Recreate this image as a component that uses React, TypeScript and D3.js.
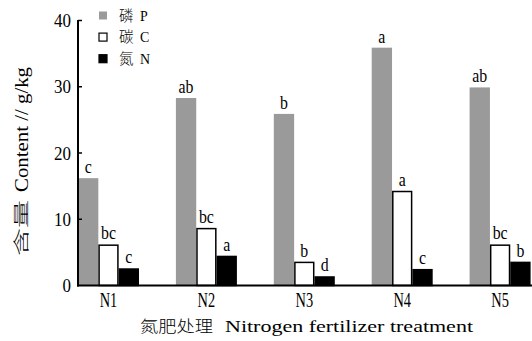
import React from "react";
import * as d3 from "d3";

const categories = ["N1", "N2", "N3", "N4", "N5"];
const seriesNames = ["磷 P", "碳 C", "氮 N"];
const seriesKeys = ["P", "C", "N"];
const pValues = [16.2, 28.3, 25.9, 35.9, 29.9];
const cValues = [6.2, 8.7, 3.6, 14.3, 6.2];
const nValues = [2.6, 4.5, 1.4, 2.5, 3.6];
const pLetters = ["c", "ab", "b", "a", "ab"];
const cLetters = ["bc", "bc", "b", "a", "bc"];
const nLetters = ["c", "a", "d", "c", "b"];
const yTicks = [0, 10, 20, 30, 40];

const W = 532;
const H = 341;
const X0 = 78;
const X1 = 530.6;
const Y0 = 285.5;
const Y1 = 20.5;

const serif = "'Liberation Serif', 'DejaVu Serif', serif";
const cjk = "'Noto Sans CJK SC', sans-serif";

export default function App() {
  const x = d3.scaleBand<string>().domain(categories).range([X0, X1]).paddingInner(0.377).paddingOuter(0);
  const xs = d3.scaleBand<string>().domain(seriesKeys).range([0, x.bandwidth()]).padding(0);
  const y = d3.scaleLinear().domain([0, 40]).range([Y0, Y1]);

  const series = [
    { key: "P", values: pValues, letters: pLetters, fill: "#9a9a9a", stroke: "none" },
    { key: "C", values: cValues, letters: cLetters, fill: "#ffffff", stroke: "#000" },
    { key: "N", values: nValues, letters: nLetters, fill: "#000000", stroke: "#000" },
  ];

  return (
    <svg width={W} height={H} style={{ position: "absolute", left: 0, top: 0, background: "#fff" }}>
      {/* bars */}
      {series.map((s) =>
        categories.map((c, i) => {
          const bx = (x(c) as number) + (xs(s.key) as number);
          const bw = xs.bandwidth();
          const top = y(s.values[i]);
          const inset = s.stroke === "none" ? 0 : 0.75;
          return (
            <g key={s.key + c}>
              <rect
                x={bx + inset}
                y={top + inset}
                width={bw - inset * 2}
                height={Y0 - top - inset}
                fill={s.fill}
                stroke={s.stroke}
                strokeWidth={s.stroke === "none" ? 0 : 1.5}
              />
              <g transform={`translate(${bx + bw / 2},${top - 5}) scale(0.88,1)`}>
                <text textAnchor="middle" fontFamily={serif} fontSize={18} fill="#000">
                  {s.letters[i]}
                </text>
              </g>
            </g>
          );
        })
      )}

      {/* axes */}
      <line x1={X0} x2={X0} y1={Y1 - 0.5} y2={Y0 + 1} stroke="#000" strokeWidth={2} />
      <line x1={X0 - 1} x2={W} y1={Y0} y2={Y0} stroke="#000" strokeWidth={2} />
      {yTicks.map((t) => (
        <g key={t}>
          {t > 0 && <line x1={X0} x2={X0 + 4} y1={y(t)} y2={y(t)} stroke="#000" strokeWidth={1.5} />}
          <g transform={`translate(71,${y(t) + 6.5}) scale(0.87,1)`}>
            <text textAnchor="end" fontFamily={serif} fontSize={19.5} fill="#000">
              {t}
            </text>
          </g>
        </g>
      ))}
      {categories.map((c) => (
        <g key={c} transform={`translate(${(x(c) as number) + x.bandwidth() / 2},307) scale(0.72,1)`}>
          <text textAnchor="middle" fontFamily={serif} fontSize={20} fill="#000">
            {c}
          </text>
        </g>
      ))}

      {/* x title */}
      <text x={140} y={332} fontFamily={cjk} fontSize={16} fontWeight={300} textLength={73} lengthAdjust="spacingAndGlyphs" fill="#000">
        氮肥处理
      </text>
      <text x={225} y={332} fontFamily={serif} fontSize={16} textLength={248} lengthAdjust="spacingAndGlyphs" fill="#000">
        Nitrogen fertilizer treatment
      </text>

      {/* y title */}
      <g transform="translate(28,0) rotate(-90)">
        <text x={-256} y={-1} fontFamily={cjk} fontSize={16} fontWeight={300} textLength={56} lengthAdjust="spacingAndGlyphs" fill="#000">
          含量
        </text>
        <text x={-192} y={0} fontFamily={serif} fontSize={18} textLength={125} lengthAdjust="spacingAndGlyphs" fill="#000">
          Content // g/kg
        </text>
      </g>

      {/* legend */}
      {series.map((s, i) => {
        const [cn, en] = seriesNames[i].split(" ");
        const cy = 15.5 + i * 21.6;
        return (
          <g key={s.key}>
            <rect
              x={99}
              y={cy - 4}
              width={8}
              height={8}
              fill={s.fill}
              stroke={s.stroke}
              strokeWidth={s.stroke === "none" ? 0 : 1.2}
            />
            <text x={119} y={cy + 5} fontFamily={cjk} fontSize={14.5} fontWeight={300} fill="#000">
              {cn}
            </text>
            <g transform={`translate(140,${cy + 5}) scale(0.9,1)`}>
              <text fontFamily={serif} fontSize={15.5} fill="#000">
                {en}
              </text>
            </g>
          </g>
        );
      })}
    </svg>
  );
}
